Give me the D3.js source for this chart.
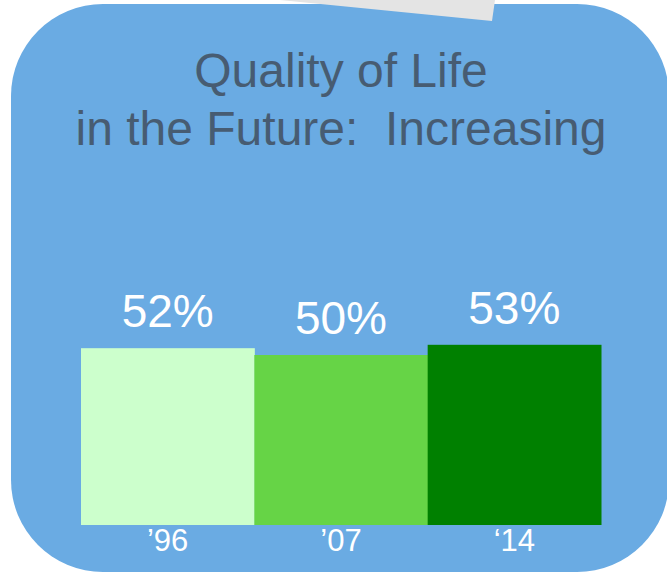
<!DOCTYPE html>
<html>
<head>
<meta charset="utf-8">
<script src="https://cdn.jsdelivr.net/npm/d3@7"></script>
<style>
  html, body { margin: 0; padding: 0; background: #ffffff; }
  svg { display: block; }
</style>
</head>
<body>
<svg id="chart" width="667" height="573"></svg>
<script>
const titleLines = ["Quality of Life", "in the Future:  Increasing"];
const categories = ["\u201996", "\u201907", "\u201814"];
const values = [52, 50, 53];
const valueLabels = ["52%", "50%", "53%"];
const barColors = ["#ccffcc", "#66d446", "#008000"];

const svg = d3.select("#chart");
const font = "'Liberation Sans', Arial, sans-serif";

// background card
svg.append("rect")
  .attr("x", 11).attr("y", 4)
  .attr("width", 658).attr("height", 568)
  .attr("rx", 92).attr("ry", 92)
  .attr("fill", "#6aabe3");

// gray paper tab at the top
svg.append("path")
  .attr("d", "M280,0 L495,0 L492,21 Z")
  .attr("fill", "#e4e4e4");

// title
svg.append("g").selectAll("text")
  .data(titleLines)
  .join("text")
  .attr("x", 341)
  .attr("y", (d, i) => 87 + i * 58)
  .attr("text-anchor", "middle")
  .style("font-family", font)
  .style("font-size", "48px")
  .attr("fill", "#475c72")
  .style("white-space", "pre")
  .text(d => d);

const x = d3.scaleBand()
  .domain(categories)
  .range([81, 601])
  .paddingInner(0).paddingOuter(0);

const y = d3.scaleLinear()
  .domain([0, 100])
  .range([525, 185]);

svg.append("g").selectAll("rect")
  .data(values)
  .join("rect")
  .attr("x", (d, i) => x(categories[i]))
  .attr("width", x.bandwidth() + 0.5)
  .attr("y", d => y(d))
  .attr("height", d => y(0) - y(d))
  .attr("fill", (d, i) => barColors[i]);

svg.append("g").selectAll("text")
  .data(values)
  .join("text")
  .attr("x", (d, i) => x(categories[i]) + x.bandwidth() / 2)
  .attr("y", d => y(d) - 21)
  .attr("text-anchor", "middle")
  .style("font-family", font)
  .style("font-size", "46px")
  .attr("fill", "#ffffff")
  .text((d, i) => valueLabels[i]);

// category axis labels
const axis = d3.axisBottom(x).tickSize(0).tickPadding(4);
const ax = svg.append("g")
  .attr("transform", `translate(0,${y(0)})`)
  .call(axis);
ax.select(".domain").remove();
ax.selectAll("text")
  .style("font-family", font)
  .style("font-size", "31px")
  .attr("fill", "#ffffff")
  .attr("dy", "0.71em");
</script>
</body>
</html>
